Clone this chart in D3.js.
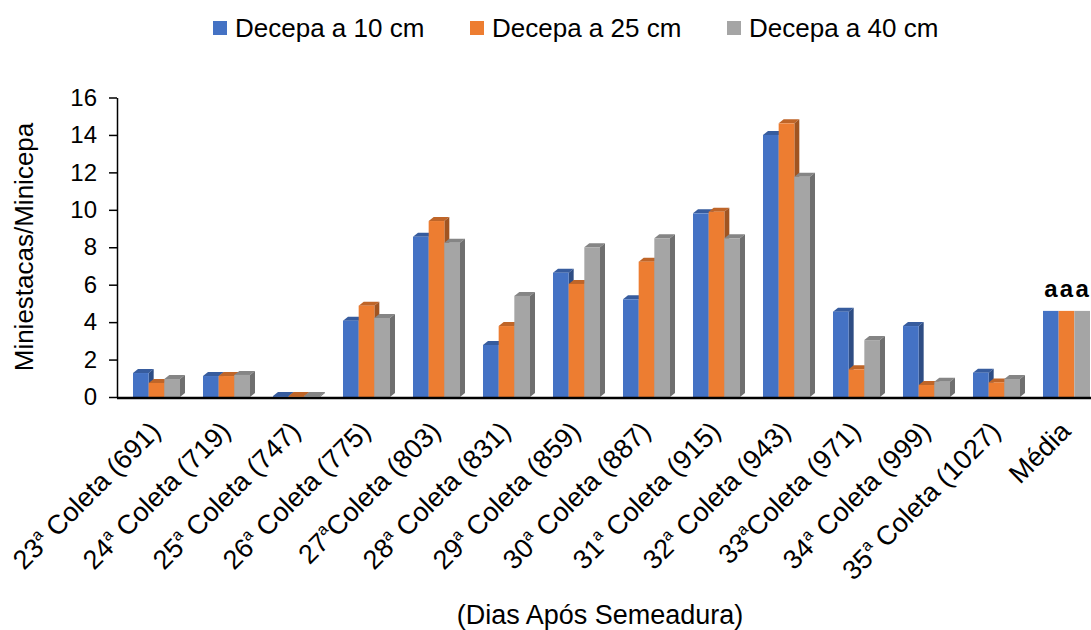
<!DOCTYPE html>
<html>
<head>
<meta charset="utf-8">
<script src="https://cdn.jsdelivr.net/npm/d3@7"></script>
<style>
  body { margin: 0; background: #fff; }
  text { font-family: "Liberation Sans", Arial, sans-serif; fill: #000; }
</style>
</head>
<body>
<div id="chart"></div>
<script>
// data
const categories = ["23ª Coleta (691)", "24ª Coleta (719)", "25ª Coleta (747)", "26ª Coleta (775)",
  "27ªColeta (803)", "28ª Coleta (831)", "29ª Coleta (859)", "30ª Coleta (887)", "31ª Coleta (915)",
  "32ª Coleta (943)", "33ªColeta (971)", "34ª Coleta (999)", "35ª Coleta (1027)", "Média"];
const seriesNames = ["Decepa a 10 cm", "Decepa a 25 cm", "Decepa a 40 cm"];
const decepa10 = [1.28, 1.12, 0.05, 4.08, 8.56, 2.78, 6.64, 5.22, 9.81, 14.0, 4.56, 3.79, 1.30, 4.6];
const decepa25 = [0.75, 1.12, 0.05, 4.88, 9.40, 3.79, 6.04, 7.23, 9.90, 14.62, 1.48, 0.64, 0.78, 4.6];
const decepa40 = [0.96, 1.18, 0.05, 4.22, 8.24, 5.40, 8.00, 8.48, 8.48, 11.77, 3.04, 0.82, 0.96, 4.6];
const mediaLetters = ["a", "a", "a"];
const yTicks = [0, 2, 4, 6, 8, 10, 12, 14, 16];

const colors = ["#4472C4", "#ED7D31", "#A5A5A5"];
const seriesValues = [decepa10, decepa25, decepa40];

const W = 1091, H = 630;
const depthX = 5, depthY = 4;

const svg = d3.select("#chart").append("svg")
    .attr("width", W)
    .attr("height", H);

const y = d3.scaleLinear().domain([0, 16]).range([397, 97.5]);
const x0 = d3.scaleBand().domain(categories).range([117, 1097]);
const x1 = d3.scaleBand().domain(seriesNames).range([16, 63]);

// bars
const groups = svg.append("g").selectAll("g")
    .data(categories)
    .enter().append("g")
    .attr("transform", d => `translate(${x0(d)},0)`);

groups.each(function (cat, ci) {
    const g = d3.select(this);
    const flat = cat === "Média";
    seriesNames.forEach((s, si) => {
        const v = seriesValues[si][ci];
        const bx = x1(s), bw = x1.bandwidth();
        const top = y(v), base = y(0);
        const c = d3.color(colors[si]);
        if (!flat) {
            // top face
            g.append("path")
                .attr("d", `M${bx},${top} L${bx + bw},${top} L${bx + bw + depthX},${top - depthY} L${bx + depthX},${top - depthY} Z`)
                .attr("fill", c.darker(0.6));
            // side face
            g.append("path")
                .attr("d", `M${bx + bw},${top} L${bx + bw + depthX},${top - depthY} L${bx + bw + depthX},${base - depthY} L${bx + bw},${base} Z`)
                .attr("fill", c.darker(1.1));
        }
        g.append("rect")
            .attr("x", bx)
            .attr("y", top)
            .attr("width", bw)
            .attr("height", base - top)
            .attr("fill", colors[si]);
        if (flat) {
            g.append("text")
                .attr("x", bx + bw / 2)
                .attr("y", top - 14)
                .attr("text-anchor", "middle")
                .style("font-size", "24px")
                .style("font-weight", "bold")
                .text(mediaLetters[si]);
        }
    });
});

// baseline
svg.append("line")
    .attr("x1", 117).attr("x2", W)
    .attr("y1", y(0) + 1).attr("y2", y(0) + 1)
    .attr("stroke", "#000")
    .attr("stroke-width", 2.5);

// y axis
const yAxis = svg.append("g")
    .attr("transform", "translate(117,0)")
    .call(d3.axisLeft(y).tickValues(yTicks).tickSize(8).tickSizeOuter(0).tickPadding(12));
yAxis.select(".domain").attr("stroke", "#000").attr("stroke-width", 1.5);
yAxis.selectAll(".tick line").attr("stroke", "#000").attr("stroke-width", 1.5);
yAxis.selectAll("text").style("font-size", "24px").style("font-family", "Liberation Sans, Arial, sans-serif");

svg.append("text")
    .attr("transform", "translate(33,247) rotate(-90)")
    .attr("text-anchor", "middle")
    .style("font-size", "26px")
    .text("Miniestacas/Minicepa");

// x labels
svg.append("g").selectAll("text")
    .data(categories)
    .enter().append("text")
    .attr("text-anchor", "end")
    .attr("transform", d => `translate(${x0(d) + x0.bandwidth() / 2 + 10},433) rotate(-45)`)
    .style("font-size", "27px")
    .each(function (d) {
        const t = d3.select(this);
        const parts = d.split("ª");
        if (parts.length === 1) { t.text(d); return; }
        t.append("tspan").text(parts[0]);
        t.append("tspan").attr("dy", -11).style("font-size", "16px").text("a");
        t.append("tspan").attr("dy", 11).text(parts[1]);
    });

svg.append("text")
    .attr("x", 600)
    .attr("y", 624)
    .attr("text-anchor", "middle")
    .style("font-size", "27px")
    .text("(Dias Após Semeadura)");

// legend
const legendX = [213, 470, 727];
const legend = svg.append("g").selectAll("g")
    .data(seriesNames)
    .enter().append("g")
    .attr("transform", (d, i) => `translate(${legendX[i]},0)`);
legend.append("rect")
    .attr("x", 0).attr("y", 21)
    .attr("width", 14).attr("height", 14)
    .attr("fill", (d, i) => colors[i]);
legend.append("text")
    .attr("x", 22).attr("y", 37)
    .style("font-size", "26px")
    .text(d => d);
</script>
</body>
</html>
